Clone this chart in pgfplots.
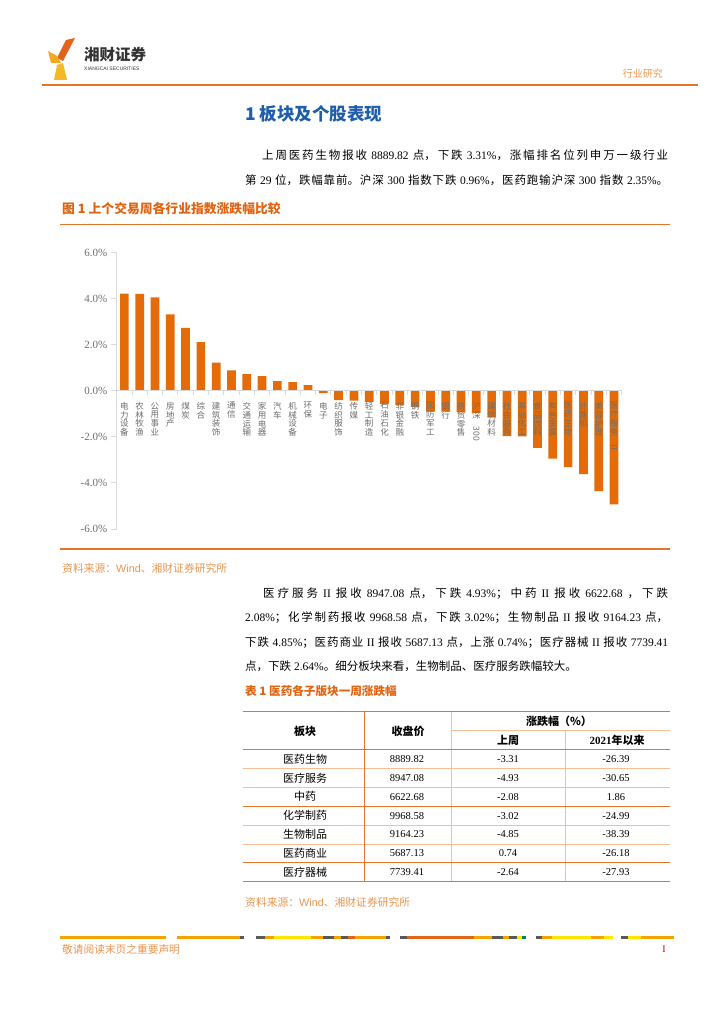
\documentclass[border=0pt]{standalone}
\usepackage{pgfplots}
\pgfplotsset{compat=1.18}
\usepackage{graphicx}
\usepackage{fontspec}
\setmainfont{Liberation Serif}
\newfontfamily\cjk{Noto Sans CJK SC}
\newfontfamily\sans{Liberation Sans}
\XeTeXlinebreaklocale "zh"
\XeTeXlinebreakskip=0pt plus 2pt
\newcommand{\fs}[2]{\fontsize{#1}{#2}\selectfont}
\newcommand{\jline}[4]{\node[anchor=base west, inner sep=0pt, font=\fs{11.5}{14}] at (#1,#2) {\parbox[b]{#3pt}{\parindent=0pt\parfillskip=0pt #4}};}
\definecolor{barc}{RGB}{227,108,9}
\definecolor{lineo}{RGB}{228,118,44}
\definecolor{titleo}{RGB}{226,100,16}
\definecolor{srco}{RGB}{233,150,80}
\definecolor{blu}{RGB}{31,95,170}
\definecolor{axg}{RGB}{217,217,217}
\definecolor{tkg}{RGB}{110,110,110}
\definecolor{lto}{RGB}{246,190,150}
\definecolor{fy}{RGB}{245,163,0}
\definecolor{fg}{RGB}{89,89,89}
\definecolor{fyy}{RGB}{255,230,0}
\definecolor{fdo}{RGB}{224,102,26}
\definecolor{ft}{RGB}{0,128,110}
\definecolor{lg1}{RGB}{226,100,28}
\definecolor{lg2}{RGB}{247,168,35}
\definecolor{lg3}{RGB}{245,185,40}
\begin{document}
\begin{tikzpicture}
\fill[white] (0,0) rectangle (724pt,-1024pt);
\begin{scope}[x=1pt,y=-1pt]
% logo
\fill[lg1] (66,40) -- (75,38) -- (63,61) -- (57,58) -- cycle;
\fill[lg2] (48,51) -- (57,56) -- (61,63) -- (51,63) -- cycle;
\fill[lg3] (57,65) -- (63,63) -- (67,80) -- (54,80) -- cycle;
\node[anchor=west, inner sep=0pt, font=\cjk\bfseries\fs{15.5}{16}, text=black!80] at (84,55) {湘财证券};
\node[anchor=west, inner sep=0pt, font=\sans\fs{5}{6}, text=black!80] at (84,69) {XIANGCAI SECURITIES};
\node[anchor=east, inner sep=0pt, font=\cjk\fs{10}{12}, text=srco] at (663,74) {行业研究};
\draw[lineo, line width=1.5pt] (42,85) -- (698,85);
% section title
\node[anchor=west, inner sep=0pt, font=\cjk\bfseries\fs{17.5}{19}, text=blu] at (245,114) {1 板块及个股表现};
% paragraph 1
\jline{262}{159.5}{406}{{\cjk 上周医药生物报收} 8889.82 {\cjk 点，下跌} 3.31\%{\cjk ，涨幅排名位列申万一级行业}}
\jline{245}{184.5}{423}{{\cjk 第} 29 {\cjk 位，跌幅靠前。沪深} 300 {\cjk 指数下跌} 0.96\%{\cjk ，医药跑输沪深} 300 {\cjk 指数} 2.35\%{\cjk 。}}
% figure title
\node[anchor=west, inner sep=0pt, font=\cjk\bfseries\fs{12.8}{14}, text=titleo] at (62,209) {图 1 上个交易周各行业指数涨跌幅比较};
\draw[lineo, line width=1.2pt] (60,224.3) -- (670,224.3);
\draw[lineo, line width=1.2pt] (60,549) -- (670,549);
\node[anchor=west, inner sep=0pt, font=\cjk\fs{10.8}{12}, text=srco] at (62,568) {资料来源：{\sans Wind}、湘财证券研究所};
% paragraph 2
\jline{263}{597.5}{405}{{\cjk 医疗服务} II {\cjk 报收} 8947.08 {\cjk 点，下跌} 4.93\%{\cjk ；中药} II {\cjk 报收} 6622.68 {\cjk ，下跌}}
\jline{245}{621.5}{423}{2.08\%{\cjk ；化学制药报收} 9968.58 {\cjk 点，下跌} 3.02\%{\cjk ；生物制品} II {\cjk 报收} 9164.23 {\cjk 点，}}
\jline{245}{646.5}{423}{{\cjk 下跌} 4.85\%{\cjk ；医药商业} II {\cjk 报收} 5687.13 {\cjk 点，上涨} 0.74\%{\cjk ；医疗器械} II {\cjk 报收} 7739.41}
\node[anchor=base west, inner sep=0pt, font=\fs{11.5}{14}] at (245,670.5)
 {{\cjk 点，下跌} 2.64\%{\cjk 。细分板块来看，生物制品、医疗服务跌幅较大。}};
% table title
\node[anchor=west, inner sep=0pt, font=\cjk\bfseries\fs{11.6}{14}, text=titleo] at (245,691) {表 1 医药各子版块一周涨跌幅};
% table lines
\draw[lto, line width=0.8pt] (451.7,730.7) -- (670,730.7);
\foreach \yy in {768.7,787.3,825,844} \draw[lto, line width=0.8pt] (242.7,\yy) -- (670,\yy);
\draw[lto, line width=0.8pt] (451.7,711.7) -- (451.7,881.7);
\draw[lto, line width=0.8pt] (565,730.7) -- (565,881.7);
\draw[lineo, line width=0.9pt] (364.3,711.7) -- (364.3,881.7);
\draw[lineo, line width=0.9pt] (242.7,806.7) -- (670,806.7);
\draw[lineo, line width=0.9pt] (242.7,862.7) -- (670,862.7);
\draw[lineo, line width=1pt] (242.7,711.7) -- (670,711.7);
\draw[lineo, line width=1pt] (242.7,749.3) -- (670,749.3);
\draw[lineo, line width=1pt] (242.7,881.7) -- (670,881.7);
% table header
\node[font=\cjk\bfseries\fs{11}{13}] at (305,731.5) {板块};
\node[font=\cjk\bfseries\fs{11}{13}] at (408,731.5) {收盘价};
\node[font=\cjk\bfseries\fs{11}{13}] at (559,721.5) {涨跌幅（\%）};
\node[font=\cjk\bfseries\fs{11}{13}] at (508,740.5) {上周};
\node[font=\bfseries\fs{11}{13}] at (617,740.5) {2021{\cjk 年以来}};
% table body
\foreach \nm/\cl/\wk/\yr [count=\i from 0] in
 {医药生物/8889.82/-3.31/-26.39, 医疗服务/8947.08/-4.93/-30.65, 中药/6622.68/-2.08/1.86,
  化学制药/9968.58/-3.02/-24.99, 生物制品/9164.23/-4.85/-38.39, 医药商业/5687.13/0.74/-26.18,
  医疗器械/7739.41/-2.64/-27.93}
 {
 \pgfmathsetmacro{\ry}{759+18.87*\i}
 \node[font=\cjk\fs{11}{13}] at (305,\ry) {\nm};
 \node[font=\fs{10.5}{12}] at (407,\ry) {\cl};
 \node[font=\fs{10.5}{12}] at (508,\ry) {\wk};
 \node[font=\fs{10.5}{12}] at (616,\ry) {\yr};
 }
\node[anchor=west, inner sep=0pt, font=\cjk\fs{10.8}{12}, text=srco] at (245,902) {资料来源：{\sans Wind}、湘财证券研究所};
% footer
\fill[fy] (60,936.3) rectangle (166,939.3);
\fill[fy] (177,936.3) rectangle (240,939.3);
\fill[fg] (240,936.3) rectangle (244,939.3);
\fill[fg] (256,936.3) rectangle (265,939.3);
\fill[fy] (265,936.3) rectangle (274,939.3);
\fill[fyy] (274,936.3) rectangle (311,939.3);
\fill[fy] (311,936.3) rectangle (323,939.3);
\fill[fg] (323,936.3) rectangle (334,939.3);
\fill[fy] (334,936.3) rectangle (341,939.3);
\fill[fg] (341,936.3) rectangle (348,939.3);
\fill[fdo] (348,936.3) rectangle (355,939.3);
\fill[fy] (355,936.3) rectangle (386,939.3);
\fill[fg] (386,936.3) rectangle (390,939.3);
\fill[fg] (400,936.3) rectangle (407,939.3);
\fill[fdo] (407,936.3) rectangle (474,939.3);
\fill[fy] (474,936.3) rectangle (492,939.3);
\fill[fg] (492,936.3) rectangle (503,939.3);
\fill[fy] (503,936.3) rectangle (509,939.3);
\fill[fg] (509,936.3) rectangle (517,939.3);
\fill[fyy] (517,936.3) rectangle (522,939.3);
\fill[ft] (522,936.3) rectangle (526,939.3);
\fill[fg] (536,936.3) rectangle (542,939.3);
\fill[fy] (542,936.3) rectangle (552,939.3);
\fill[fyy] (552,936.3) rectangle (591,939.3);
\fill[fy] (591,936.3) rectangle (604,939.3);
\fill[fyy] (604,936.3) rectangle (613,939.3);
\fill[fg] (621,936.3) rectangle (628,939.3);
\fill[fyy] (628,936.3) rectangle (641,939.3);
\fill[fy] (641,936.3) rectangle (674,939.3);
\node[anchor=west, inner sep=0pt, font=\cjk\fs{10.7}{12}, text=srco] at (62,949) {敬请阅读末页之重要声明};
\node[inner sep=0pt, font=\fs{10}{12}, text=red!80!black] at (664,949) {I};
\end{scope}
\begin{axis}[
 at={(116.7pt,-529pt)}, anchor=south west,
 scale only axis, width=505pt, height=276.3pt,
 xmin=-0.5, xmax=32.5, ymin=-6, ymax=6,
 axis on top,
 axis y line=left, axis x line=middle,
 x axis line style={-, draw=axg, line width=1pt},
 y axis line style={-, draw=axg, line width=1.2pt},
 hide obscured y ticks=false,
 ytick={-6,-4,...,6},
 /pgf/number format/assume math mode=true,
 yticklabel={\pgfmathprintnumber[fixed,fixed zerofill,precision=1]{\tick}\%},
 yticklabel style={font=\fs{11}{13}, text=tkg},
 every major y tick/.append style={draw=axg, line width=1pt},
 ytick align=outside, major tick length=6pt,
 xtick={0,...,32},
 every major x tick/.append style={draw=none},
 minor xtick={-0.5,0.5,...,32.5},
 every minor x tick/.append style={draw=axg, line width=1pt},
 minor tick length=4pt, xtick align=outside,
 xticklabels={{电\\力\\设\\备},{农\\林\\牧\\渔},{公\\用\\事\\业},{房\\地\\产},{煤\\炭},{综\\合},{建\\筑\\装\\饰},{通\\信},{交\\通\\运\\输},{家\\用\\电\\器},{汽\\车},{机\\械\\设\\备},{环\\保},{电\\子},{纺\\织\\服\\饰},{传\\媒},{轻\\工\\制\\造},{石\\油\\石\\化},{非\\银\\金\\融},{钢\\铁},{国\\防\\军\\工},{银\\行},{商\\贸\\零\\售},{沪\\深\\\rotatebox{-90}{300}},{建\\筑\\材\\料},{社\\会\\服\\务},{基\\础\\化\\工},{食\\品\\饮\\料},{有\\色\\金\\属},{医\\药\\生\\物},{计\\算\\机},{美\\容\\护\\理},{医\\疗\\服\\务\\\rotatebox{-90}{\rmfamily II}}},
 xticklabel style={font=\cjk\fs{8.5}{8.9}, text=tkg, align=center, anchor=north, inner sep=0pt, yshift=-5pt},
 ybar, bar width=8.7pt,
]
\addplot[fill=barc, draw=none] coordinates {
(0,4.22) (1,4.21) (2,4.06) (3,3.32) (4,2.73) (5,2.12) (6,1.23) (7,0.89) (8,0.73) (9,0.64) (10,0.42)
(11,0.38) (12,0.25) (13,-0.10) (14,-0.40) (15,-0.42) (16,-0.48) (17,-0.58) (18,-0.61) (19,-0.70)
(20,-0.90) (21,-0.90) (22,-0.93) (23,-0.96) (24,-1.15) (25,-1.97) (26,-1.98) (27,-2.48) (28,-2.94)
(29,-3.31) (30,-3.62) (31,-4.35) (32,-4.93)};
\end{axis}
\pgfresetboundingbox
\useasboundingbox (0,0) rectangle (724pt,-1024pt);
\end{tikzpicture}
\end{document}
